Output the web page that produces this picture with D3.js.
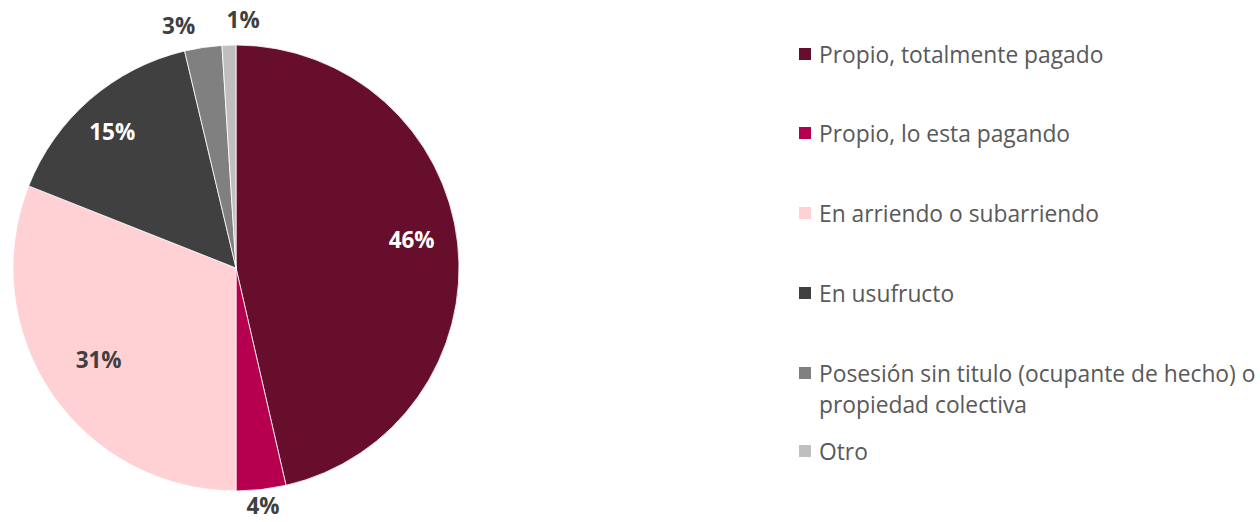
<!DOCTYPE html>
<html><head><meta charset="utf-8">
<script src="https://cdn.jsdelivr.net/npm/d3@7"></script>
<style>body{margin:0;background:#fff;} svg{display:block;}</style>
</head><body>
<svg id="c" width="1260" height="522"></svg>
<script>
const categories = ["Propio, totalmente pagado","Propio, lo esta pagando","En arriendo o subarriendo","En usufructo","Posesión sin titulo (ocupante de hecho) o propiedad colectiva","Otro"];
const values = [46.4, 3.6, 31.0, 15.3, 2.7, 1.0];
const labels = ["46%","4%","31%","15%","3%","1%"];
const colors = ["#670E2C","#B6004F","#FFD1D4","#404040","#808080","#BFBFBF"];

const svg = d3.select("#c");
const cx = 236, cy = 268, r = 223;
const g = svg.append("g").attr("transform", `translate(${cx},${cy})`);
const pie = d3.pie().sort(null).value(d => d)(values);
const arc = d3.arc().innerRadius(0).outerRadius(r);
g.selectAll("path").data(pie).enter().append("path")
  .attr("d", arc).attr("fill", (d,i) => colors[i]).attr("stroke","#fff").attr("stroke-width",0.8);

const inside = d => (d.endAngle - d.startAngle) > 0.5;
const angNudge = [-0.05, 0, 0.01, -0.025, -0.085, 0.06];
const radFor = (d,i) => inside(d) ? (i===0?178:(i===2?165:184)) : (i===1 ? r+16 : r+26);
const pos = (d,i) => { const a=(d.startAngle+d.endAngle)/2+angNudge[i]; const rr=radFor(d,i); return [rr*Math.sin(a), -rr*Math.cos(a)]; };
g.selectAll("text.lbl").data(pie).enter().append("text")
  .attr("class","lbl")
  .attr("x", (d,i) => pos(d,i)[0])
  .attr("y", (d,i) => pos(d,i)[1])
  .attr("text-anchor","middle").attr("dominant-baseline","central")
  .attr("font-family","'Open Sans', 'Noto Sans', sans-serif").attr("font-weight","bold").attr("font-size",22.5)
  .attr("fill", (d,i) => (i===0 || i===3) ? "#ffffff" : "#404040")
  .text((d,i) => labels[i]);

// legend
const lx = 799, ys = [54,133,213,293,373,451];
const leg = svg.append("g");
const ff = "'Open Sans', 'Noto Sans', sans-serif", fs = 22.8;
categories.forEach((c,i) => {
  leg.append("rect").attr("x", lx).attr("y", ys[i]-6).attr("width",12).attr("height",12).attr("fill", colors[i]);
  const t = leg.append("text").attr("x", lx+20).attr("y", ys[i])
    .attr("dominant-baseline","central")
    .attr("font-family",ff).attr("font-size",fs).attr("fill","#595959");
  if (i === 4) {
    t.text("Posesión sin titulo (ocupante de hecho) o");
    leg.append("text").attr("x", lx+20).attr("y", ys[i]+31).attr("dominant-baseline","central")
      .attr("font-family",ff).attr("font-size",fs).attr("fill","#595959")
      .text("propiedad colectiva");
  } else t.text(c);
});
</script>
</body></html>
